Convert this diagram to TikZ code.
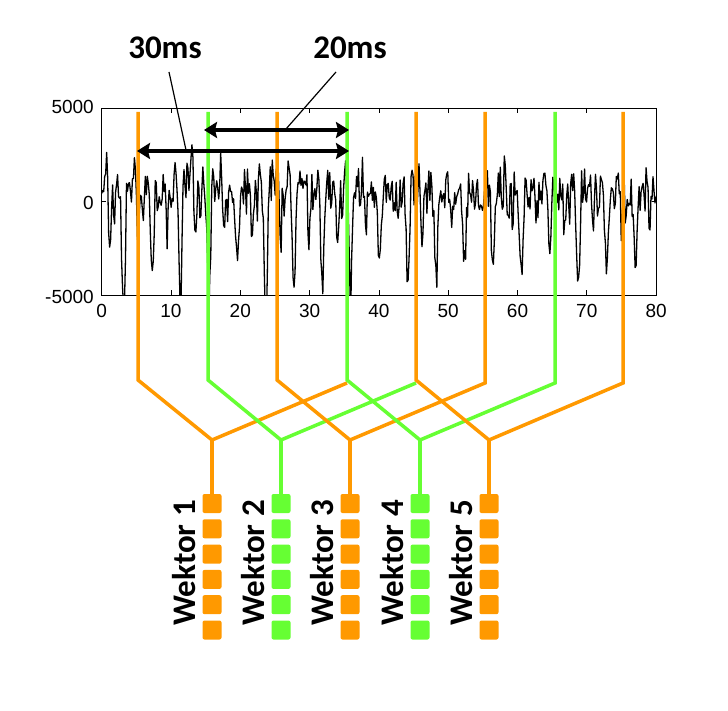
\documentclass[tikz,border=0pt]{standalone}
\usepackage{fontspec}
\setmainfont{Carlito}
\newfontfamily\axisfont{Liberation Sans}
\usetikzlibrary{arrows.meta}
\definecolor{vor}{RGB}{255,153,0}
\definecolor{vgr}{RGB}{102,255,51}
\begin{document}
\begin{tikzpicture}[x=1pt,y=-1pt,
  orline/.style={draw=vor,line width=3.5pt},
  grline/.style={draw=vgr,line width=3.5pt},
  sqbox/.style={rounded corners=2pt,minimum size=19pt,inner sep=0pt,draw=none},
  orsq/.style={sqbox,fill=vor},
  grsq/.style={sqbox,fill=vgr},
  wlab/.style={rotate=90,anchor=base,inner sep=0pt,font=\fontsize{33}{40}\selectfont\bfseries},
  mslab/.style={inner sep=0pt,font=\fontsize{33}{40}\selectfont\bfseries},
  ticklab/.style={inner sep=0pt,font=\axisfont\fontsize{19}{22}\selectfont},
  dimarrow/.style={line width=4pt,{Stealth[length=13pt,width=16pt,inset=2pt]}-{Stealth[length=13pt,width=16pt,inset=2pt]}},
  pointer/.style={line width=1.2pt},
  signal/.style={line width=1.3pt,line join=round}]
\fill[white] (0,0) rectangle (728,711);
\useasboundingbox (0,0) rectangle (728,711);

% axes
\coordinate (axtl) at (101.7,108);
\coordinate (axbr) at (656,295);

% signal (variable = pitch cycles, period 4.1 ms)
\begin{scope}
\clip (axtl) rectangle (axbr);
\pgfmathsetseed{23}
\draw[signal] plot[domain=0:19.51, samples=560, variable=\c]
 ({101.7+28.413*\c}, {201.5 - ((\c<8.78) ? 1.45 : 1.05)*(0.85+0.2*sin(360*mod(0.37*\c,1)))*(22*sin(360*mod(\c,1)) + 18*sin(360*mod(2*\c,1)+70) + 17*sin(360*mod(3*\c,1)+160) + 13*sin(360*mod(4*\c,1)+250) + 9*sin(360*mod(6*\c,1)+30) - 33*pow(max(0,cos(360*mod(\c,1)-110)),10)) - 20*rand});
\end{scope}

\draw[line width=0.8pt] (axtl) rectangle (axbr);
\foreach \v in {10,20,...,70} {
  \draw[line width=0.8pt] ({101.7+6.93*\v},108) -- ++(0,5);
  \draw[line width=0.8pt] ({101.7+6.93*\v},295) -- ++(0,-5);
}
\draw[line width=0.8pt] (101.7,201.5) -- ++(4,0);
\draw[line width=0.8pt] (656,201.5) -- ++(-4,0);
\foreach \v in {0,10,...,80}
  \node[ticklab] (xt\v) at ({101.7+6.93*\v},311) {\v};
\node[ticklab,anchor=east] (yt1) at (94,107) {5000};
\node[ticklab,anchor=east] (yt2) at (94,203) {0};
\node[ticklab,anchor=east] (yt3) at (94,297) {-5000};

% frame line coordinates
\foreach \i/\x in {0/138,1/208,2/277,3/347,4/416,5/485,6/555,7/623} {
  \coordinate (top\i) at (\x,112);
  \coordinate (bend\i) at (\x,380);
  \coordinate (rb\i) at (\x,383);
}
\foreach \k/\x in {1/212,2/281,3/350,4/420,5/489}
  \coordinate (m\k) at (\x,440);

% squares
\foreach \k/\x/\s in {1/212/orsq,2/281/grsq,3/350/orsq,4/420/grsq,5/489/orsq} {
  \foreach \j in {1,...,6}
    \node[\s] (s\k-\j) at (\x,{503.5+25.3*(\j-1)}) {};
  \node[wlab] (w\k) at (\x-17,563) {Wektor \k};
}

% connectors
\draw[orline] (top0) -- (bend0) -- (m1) -- (rb3);
\draw[orline] (m1) -- (s1-1.north);
\draw[grline] (top1) -- (bend1) -- (m2) -- (rb4);
\draw[grline] (m2) -- (s2-1.north);
\draw[orline] (top2) -- (bend2) -- (m3) -- (rb5) -- (top5);
\draw[orline] (m3) -- (s3-1.north);
\draw[grline] (top3) -- (bend3) -- (m4) -- (rb6) -- (top6);
\draw[grline] (m4) -- (s4-1.north);
\draw[orline] (top4) -- (bend4) -- (m5) -- (rb7) -- (top7);
\draw[orline] (m5) -- (s5-1.north);

% dimension arrows
\coordinate (a20l) at (204,130);
\coordinate (a20r) at (349,130);
\coordinate (a30l) at (137,151);
\coordinate (a30r) at (349,151);
\draw[dimarrow] (a20l) -- (a20r);
\draw[dimarrow] (a30l) -- (a30r);

\node[mslab] (t30) at (165,48) {30ms};
\node[mslab] (t20) at (350,48) {20ms};
\coordinate (p30a) at (169,72);
\coordinate (p30b) at (186,150);
\coordinate (p20a) at (336,72);
\coordinate (p20b) at (286,129);
\draw[pointer] (p30a) -- (p30b);
\draw[pointer] (p20a) -- (p20b);
\end{tikzpicture}
\end{document}
